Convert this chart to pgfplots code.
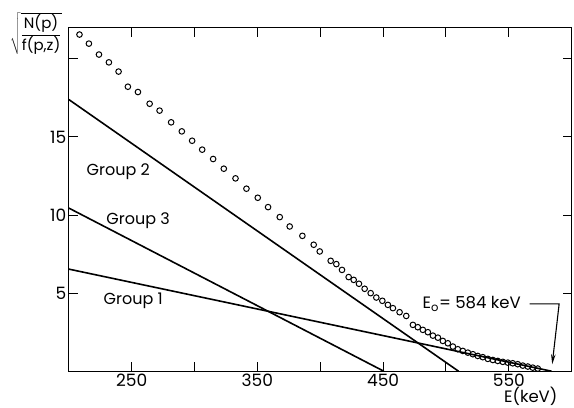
\documentclass[border=0pt]{standalone}
\usepackage{fontspec}
\setmainfont{Poppins}
\usepackage{pgfplots}
\usepackage{pgfplotstable}
\pgfplotsset{compat=1.18}
\usetikzlibrary{arrows.meta}

\pgfplotstableread{
E v
208.5 21.56
216.0 20.98
224.0 20.28
231.9 19.78
239.6 19.19
247.0 18.22
255.0 17.88
264.3 17.13
272.2 16.69
281.4 15.94
289.9 15.36
298.1 14.76
306.1 14.19
314.8 13.59
323.3 12.97
332.6 12.35
341.3 11.69
350.3 11.11
358.5 10.51
367.8 9.87
375.7 9.27
385.8 8.67
394.8 8.10
399.6 7.67
408.3 7.07
412.8 6.86
417.3 6.49
422.6 6.03
426.6 5.85
430.8 5.60
435.3 5.28
440.1 5.00
444.6 4.72
449.4 4.51
453.8 4.25
457.8 4.04
463.1 3.78
468.4 3.54
473.7 2.97
477.6 2.82
481.6 2.65
485.6 2.50
489.6 2.28
493.6 2.15
497.5 1.94
501.5 1.79
505.5 1.58
509.4 1.41
513.4 1.30
517.4 1.19
521.4 1.09
525.3 0.98
529.3 0.90
533.3 0.79
537.3 0.72
541.2 0.66
545.2 0.60
549.2 0.55
553.1 0.51
557.1 0.45
561.1 0.36
565.1 0.30
569.0 0.23
573.0 0.17
}\dots

\begin{document}
\begin{tikzpicture}
\begin{axis}[
  name=ax,
  scale only axis, width=503pt, height=343.6pt,
  xmin=200, xmax=600, ymin=0, ymax=22,
  xtick={250,300,...,550}, xticklabels={250,,350,,450,,550},
  ytick={5,10,15,20}, yticklabels={5,10,15,},
  tick align=inside, tick pos=both, major tick length=9pt,
  every tick/.style={black, line width=1pt},
  axis line style={line width=1.2pt},
  tick label style={font=\fontsize{17}{19}\selectfont},
  xticklabel style={yshift=1pt},
  yticklabel style={xshift=1pt},
  /pgf/number format/assume math mode=true,
  clip=false,
]
\addplot[only marks, mark=o, mark size=2.8pt, mark options={line width=1pt, black}] table[x=E, y=v] {\dots};
\addplot[line width=1.6pt, black] coordinates {(200,17.4) (510,0)};
\addplot[line width=1.6pt, black] coordinates {(200,10.45) (450.6,0)};
\addplot[line width=1.6pt, black] coordinates {(200,6.54) (584,0)};

\node[font=\fontsize{16}{18}\selectfont] at (axis cs:239.3,12.8) {Group 2};
\node[font=\fontsize{16}{18}\selectfont] at (axis cs:255.2,9.63) {Group 3};
\node[font=\fontsize{16}{18}\selectfont] at (axis cs:251.2,4.5) {Group 1};
\node[font=\fontsize{16.5}{18}\selectfont] at (axis cs:520.5,4.31) {E\textsubscript{o}= 584 keV};
\draw[line width=1.1pt, -{Stealth[length=10pt,width=4.5pt]}] (axis cs:566.5,4.31) -- (axis cs:590,4.31) -- (axis cs:584.5,0.45);

\node[font=\fontsize{15}{17}\selectfont, inner sep=0pt] at ([shift={(-33pt,-6pt)}]rel axis cs:0,1)
  {$\sqrt{\displaystyle\frac{\mbox{N(p)}}{\mbox{f(p,z)}}}$};
\node[font=\fontsize{16.5}{18}\selectfont, inner sep=0pt] at ([shift={(0pt,-25.5pt)}]rel axis cs:0.9185,0) {E(keV)};
\end{axis}
\pgfresetboundingbox
\path ([shift={(-68.8pt,-36.7pt)}]ax.south west) rectangle ([shift={(2.3pt,27.7pt)}]ax.north east);
\end{tikzpicture}
\end{document}
